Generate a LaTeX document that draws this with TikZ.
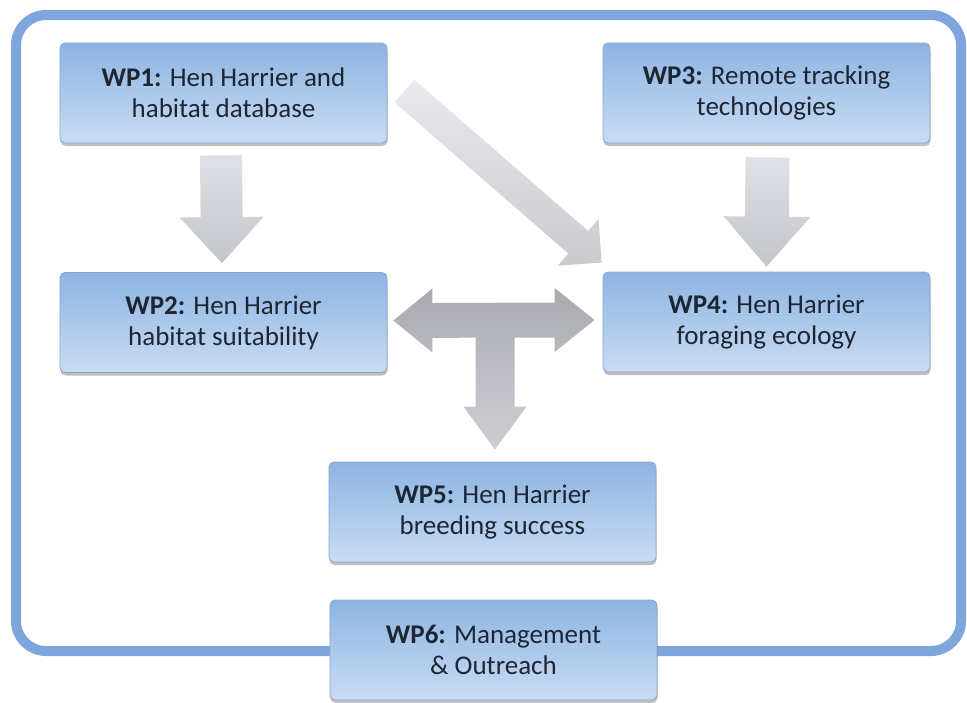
\documentclass[tikz,border=0pt]{standalone}
\usepackage{fontspec}
\setmainfont{Carlito}
\usetikzlibrary{calc,shadows}

\definecolor{frameblue}{HTML}{7EA6DC}
\definecolor{boxtop}{HTML}{8DB4E2}
\definecolor{boxbot}{HTML}{C9DCF3}
\definecolor{boxedge}{HTML}{86A6D0}
\definecolor{textdark}{HTML}{1F2633}
\definecolor{arrowlight}{HTML}{E0E1E6}
\definecolor{arrowmid}{HTML}{C4C5CB}
\definecolor{arrowdark}{HTML}{A9AAB0}

% Block arrow from #2 to the tip #3:
% #4 half shaft width, #5 half head width, #6 head length
\newcommand{\blockarrow}[6][]{%
  \coordinate (ba-h) at ($(#3)!#6!(#2)$);
  \path[#1] ($(#2)!#4!90:(#3)$) -- ($(ba-h)!#4!90:(#3)$)
    -- ($(ba-h)!#5!90:(#3)$) -- (#3) -- ($(ba-h)!#5!-90:(#3)$)
    -- ($(ba-h)!#4!-90:(#3)$) -- ($(#2)!#4!-90:(#3)$) -- cycle;}

\begin{document}
\begin{tikzpicture}[x=1pt,y=-1pt,
  wpbox/.style={rectangle, rounded corners=5pt, minimum width=327pt,
    minimum height=100pt, draw=boxedge, line width=0.8pt,
    top color=boxtop, bottom color=boxbot,
    drop shadow={shadow xshift=0.5pt, shadow yshift=-3pt, opacity=0.35, fill=black!70},
    align=center, text=textdark, inner sep=0pt,
    font=\fontsize{27}{31}\selectfont},
  downarrow/.style={top color=arrowlight, bottom color=arrowmid},
  diagarrow/.style={top color=arrowlight!70!white, bottom color=arrowlight!90!black},
  tarrow/.style={top color=arrowdark, bottom color=arrowlight!92!black}]

\useasboundingbox (0,0) rectangle (967,702);
\fill[white] (0,0) rectangle (967,702);

% outer frame
\draw[frameblue, line width=10pt, rounded corners=30pt] (16,15) rectangle (961,651);

% work packages
\node[wpbox] (wp1) at (223.5,93)  {\textbf{WP1:} Hen Harrier and\\habitat database};
\node[wpbox] (wp3) at (766.5,93)  {\textbf{WP3:} Remote tracking\\technologies};
\node[wpbox] (wp2) at (223.5,322.5) {\textbf{WP2:} Hen Harrier\\habitat suitability};
\node[wpbox] (wp4) at (766.5,322) {\textbf{WP4:} Hen Harrier\\foraging ecology};
\node[wpbox] (wp5) at (492.5,512) {\textbf{WP5:} Hen Harrier\\breeding success};
\node[wpbox] (wp6) at (493.5,650) {\textbf{WP6:} Management\\\& Outreach};

% WP1 -> WP2
\coordinate (a1s) at ($(wp1.south)+(-2.5,12)$);
\coordinate (a1t) at ($(wp2.north)+(-1.5,-9)$);
\blockarrow[downarrow]{a1s}{a1t}{21pt}{42pt}{46pt}

% WP3 -> WP4
\coordinate (a2s) at ($(wp3.south)+(1,14)$);
\coordinate (a2t) at ($(wp4.north)+(0,-5)$);
\blockarrow[downarrow]{a2s}{a2t}{22pt}{43.5pt}{50pt}

% WP1 -> WP4
\coordinate (a3s) at ($(wp1.east)+(17,-2)$);
\coordinate (a3t) at ($(wp4.north west)+(-1,-9)$);
\blockarrow[diagarrow]{a3s}{a3t}{15pt}{31pt}{31pt}

% WP2 <-> WP4, down to WP5
\coordinate (tl) at ($(wp2.east)+(6,-2)$);
\coordinate (tr) at ($(wp4.west)+(-8,-2)$);
\coordinate (td) at ($(wp5.north)+(2.5,-12)$);
\path[tarrow] (tl) -- ($(tl)+(39,-32)$) -- ($(tl)+(39,-17.5)$)
  -- ($(tr)+(-40,-17.5)$) -- ($(tr)+(-40,-32)$) -- (tr)
  -- ($(tr)+(-40,32)$) -- ($(tr)+(-40,17.5)$)
  -- ($(td)+(19.5,-112)$) -- ($(td)+(19.5,-43)$) -- ($(td)+(31.5,-43)$)
  -- (td)
  -- ($(td)+(-31.5,-43)$) -- ($(td)+(-19.5,-43)$) -- ($(td)+(-19.5,-112)$)
  -- ($(tl)+(39,17.5)$) -- ($(tl)+(39,32)$) -- cycle;

\end{tikzpicture}
\end{document}
